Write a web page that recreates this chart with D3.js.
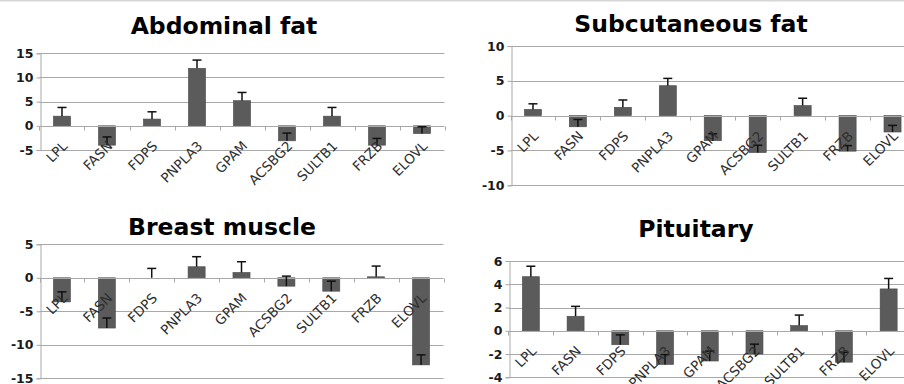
<!DOCTYPE html>
<html>
<head>
<meta charset="utf-8">
<script src="https://cdn.jsdelivr.net/npm/d3@7"></script>
<style>
  html, body { margin: 0; padding: 0; background: #fff; }
  svg { display: block; }
</style>
</head>
<body>
<svg id="chart" width="904" height="384"></svg>
<script>
// Gene names shared by all four tissue panels
const genes = ["LPL", "FASN", "FDPS", "PNPLA3", "GPAM", "ACSBG2", "SULTB1", "FRZB", "ELOVL"];

// Panel titles
const titles = ["Abdominal fat", "Subcutaneous fat", "Breast muscle", "Pituitary"];

// Mean expression change per gene, one array per tissue
const abdominalValues    = [2.0, -4.0, 1.4, 11.9, 5.2, -3.1, 2.0, -4.0, -1.6];
const subcutaneousValues = [0.9, -1.6, 1.2, 4.3, -3.6, -5.3, 1.45, -5.1, -2.35];
const breastValues       = [-3.6, -7.5, 0.0, 1.65, 0.8, -1.25, -2.0, 0.15, -13.0];
const pituitaryValues    = [4.65, 1.25, -1.2, -2.9, -2.6, -2.0, 0.45, -2.7, 3.6];

// Upper error bar length per gene
const abdominalErrors    = [1.8, 1.7, 1.5, 1.7, 1.7, 1.6, 1.8, 1.4, 1.4];
const subcutaneousErrors = [0.8, 1.05, 1.05, 1.05, 1.0, 1.05, 1.05, 0.8, 0.95];
const breastErrors       = [1.5, 1.5, 1.4, 1.5, 1.6, 1.5, 1.5, 1.6, 1.5];
const pituitaryErrors    = [0.9, 0.85, 0.85, 0.85, 0.85, 0.85, 0.9, 0.85, 0.9];

// Y-axis tick values per panel
const abdominalTicks    = [-5, 0, 5, 10, 15];
const subcutaneousTicks = [-10, -5, 0, 5, 10];
const breastTicks       = [-15, -10, -5, 0, 5];
const pituitaryTicks    = [-4, -2, 0, 2, 4, 6];

// Layout of each panel: plot box and title placement
const panels = [
  { title: titles[0], values: abdominalValues, errors: abdominalErrors, ticks: abdominalTicks,
    x0: 39.5, x1: 444.5, yTop: 53.3, yBot: 150, titleX: 224, titleY: 34 },
  { title: titles[1], values: subcutaneousValues, errors: subcutaneousErrors, ticks: subcutaneousTicks,
    x0: 510.5, x1: 915, yTop: 46, yBot: 185.3, titleX: 691, titleY: 32 },
  { title: titles[2], values: breastValues, errors: breastErrors, ticks: breastTicks,
    x0: 39.5, x1: 443.5, yTop: 244.3, yBot: 378.3, titleX: 222, titleY: 235 },
  { title: titles[3], values: pituitaryValues, errors: pituitaryErrors, ticks: pituitaryTicks,
    x0: 508.5, x1: 911, yTop: 261, yBot: 377.3, titleX: 696, titleY: 237 }
];

const svg = d3.select("#chart");
const gridColor = "#a8a8a8";
const barColor = "#5b5b5b";
const font = "DejaVu Sans, Verdana, sans-serif";

// thin frame line along the top edge
svg.append("line")
  .attr("x1", 0).attr("x2", 904).attr("y1", 0.5).attr("y2", 0.5)
  .attr("stroke", "#d6d6d6").attr("stroke-width", 2);

panels.forEach(p => {
  const g = svg.append("g");
  const ext = d3.extent(p.ticks);

  const x = d3.scaleBand().domain(genes).range([p.x0, p.x1])
    .paddingInner(0.62).paddingOuter(0.31);
  const y = d3.scaleLinear().domain(ext).range([p.yBot, p.yTop]);

  // horizontal gridlines
  g.append("g").selectAll("line").data(p.ticks.filter(t => t !== 0)).join("line")
    .attr("x1", p.x0).attr("x2", p.x1)
    .attr("y1", d => Math.round(y(d)) + 0.5).attr("y2", d => Math.round(y(d)) + 0.5)
    .attr("stroke", gridColor).attr("stroke-width", 1);

  // value axis with left tick marks; plain hyphen for negatives
  const yAxis = d3.axisLeft(y).tickValues(p.ticks).tickSize(4).tickPadding(3)
    .tickFormat(d => String(d));
  const ya = g.append("g").attr("transform", `translate(${Math.round(p.x0) + 0.5},0)`).call(yAxis);
  ya.select(".domain").attr("stroke", gridColor);
  ya.selectAll(".tick line").attr("stroke", gridColor);
  ya.selectAll(".tick text")
    .attr("font-family", font)
    .attr("font-size", 12.5).attr("font-weight", "bold").attr("fill", "#1a1a1a");

  // bars
  g.append("g").selectAll("rect").data(genes).join("rect")
    .attr("x", d => x(d))
    .attr("width", x.bandwidth())
    .attr("y", (d, i) => y(Math.max(0, p.values[i])))
    .attr("height", (d, i) => Math.abs(y(p.values[i]) - y(0)))
    .attr("fill", barColor)
    .attr("stroke", "#4a4a4a").attr("stroke-width", 0.6);

  // zero line with category boundary ticks
  const zy = Math.round(y(0)) + 0.5;
  g.append("line").attr("x1", p.x0).attr("x2", p.x1).attr("y1", zy).attr("y2", zy)
    .attr("stroke", gridColor).attr("stroke-width", 1);
  const bounds = genes.map(d => x(d) - x.step() * x.paddingInner() / 2).concat([p.x1]);
  g.append("g").selectAll("line").data(bounds).join("line")
    .attr("x1", d => Math.round(d) + 0.5).attr("x2", d => Math.round(d) + 0.5)
    .attr("y1", zy).attr("y2", zy + 4)
    .attr("stroke", gridColor).attr("stroke-width", 1);

  // upper error bars
  const eb = g.append("g").attr("stroke", "#111").attr("stroke-width", 1.5);
  genes.forEach((d, i) => {
    const cx = x(d) + x.bandwidth() / 2;
    const v = p.values[i], top = v + p.errors[i];
    eb.append("line").attr("x1", cx).attr("x2", cx).attr("y1", y(v)).attr("y2", y(top));
    eb.append("line").attr("x1", cx - 4.5).attr("x2", cx + 4.5).attr("y1", y(top)).attr("y2", y(top));
  });

  // rotated gene labels under the zero line
  g.append("g").selectAll("text").data(genes).join("text")
    .attr("transform", d => `translate(${x(d) + x.bandwidth() / 2 + 3},${zy + 17}) rotate(-45)`)
    .attr("text-anchor", "end")
    .attr("dy", "0.35em")
    .attr("font-family", font)
    .attr("font-size", 13.5).attr("fill", "#2e2e2e")
    .text(d => d);

  // title
  g.append("text")
    .attr("x", p.titleX).attr("y", p.titleY)
    .attr("text-anchor", "middle")
    .attr("font-family", font)
    .attr("font-size", 23.5).attr("font-weight", "bold").attr("fill", "#000")
    .text(p.title);
});
</script>
</body>
</html>
